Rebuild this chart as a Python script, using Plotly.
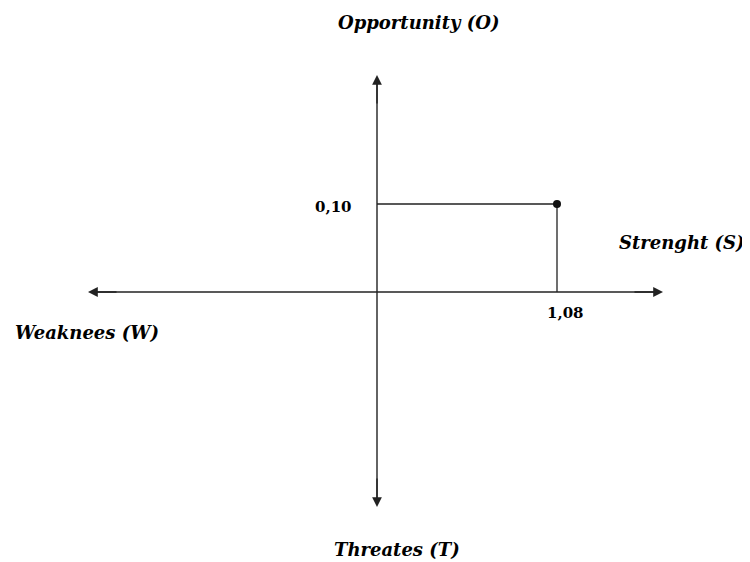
import plotly.graph_objects as go

# data
point_x = [1.08]
point_y = [0.10]
x_label = ["1,08"]
y_label = ["0,10"]
quadrant_names = ["Opportunity (O)", "Strenght (S)", "Weaknees (W)", "Threates (T)"]

# page offset (body margin) and pixel scale helpers
OFF = 8
W, H = 750 - OFF, 562 - OFF
X0PX, Y0PX = 377 - OFF, 292 - OFF
SX = 180 / 1.08
SY = 88 / 0.10
def px2x(p): return (p - OFF - X0PX) / SX
def px2y(p): return (Y0PX - (p - OFF)) / SY

fig = go.Figure()

LC = "#222222"
# axes lines
fig.add_trace(go.Scatter(x=[px2x(92), px2x(658)], y=[0, 0], mode="lines",
                         line=dict(color=LC, width=1.4), hoverinfo="skip"))
fig.add_trace(go.Scatter(x=[0, 0], y=[px2y(80), px2y(502)], mode="lines",
                         line=dict(color=LC, width=1.4), hoverinfo="skip"))
# guide lines to the point
fig.add_trace(go.Scatter(
    x=[0, point_x[0], point_x[0]], y=[point_y[0], point_y[0], 0],
    mode="lines", line=dict(color=LC, width=1.3),
    hoverinfo="skip", showlegend=False))
fig.add_trace(go.Scatter(
    x=point_x, y=point_y, mode="markers",
    marker=dict(color="#111111", size=8, symbol="circle"),
    showlegend=False))

anns = []
arrow_style = dict(showarrow=True, arrowhead=2, arrowsize=1.4, arrowwidth=1.4,
                   arrowcolor=LC, xref="x", yref="y", axref="pixel", ayref="pixel", text="")
anns.append(dict(x=px2x(663), y=0, ax=-30, ay=0, **arrow_style))
anns.append(dict(x=px2x(88), y=0, ax=30, ay=0, **arrow_style))
anns.append(dict(x=0, y=px2y(75), ax=0, ay=30, **arrow_style))
anns.append(dict(x=0, y=px2y(507), ax=0, ay=-30, **arrow_style))

lab_font = dict(family="DejaVu Serif", size=18, color="black")
num_font = dict(family="DejaVu Serif", size=15, color="black")

anns += [
    dict(x=px2x(418), y=px2y(22), text="<b><i>" + quadrant_names[0] + "</i></b>",
         showarrow=False, xref="x", yref="y", font=lab_font),
    dict(x=px2x(682), y=px2y(242), text="<b><i>" + quadrant_names[1] + "</i></b>",
         showarrow=False, xref="x", yref="y", font=lab_font),
    dict(x=px2x(87), y=px2y(332), text="<b><i>" + quadrant_names[2] + "</i></b>",
         showarrow=False, xref="x", yref="y", font=lab_font),
    dict(x=px2x(397), y=px2y(549), text="<b><i>" + quadrant_names[3] + "</i></b>",
         showarrow=False, xref="x", yref="y", font=lab_font),
    dict(x=point_x[0], y=0, yshift=-21, xshift=8, text="<b>" + x_label[0] + "</b>",
         showarrow=False, xref="x", yref="y", font=num_font),
    dict(x=0, y=point_y[0], xshift=-44, yshift=-3, text="<b>" + y_label[0] + "</b>",
         showarrow=False, xref="x", yref="y", font=num_font),
]

fig.update_layout(
    width=W, height=H,
    margin=dict(l=0, r=0, t=0, b=0),
    paper_bgcolor="white", plot_bgcolor="white",
    xaxis=dict(range=[px2x(OFF), px2x(OFF + W)], visible=False, fixedrange=True),
    yaxis=dict(range=[px2y(OFF + H), px2y(OFF)], visible=False, fixedrange=True),
    annotations=anns,
    showlegend=False,
)

fig.write_html("out.html")
